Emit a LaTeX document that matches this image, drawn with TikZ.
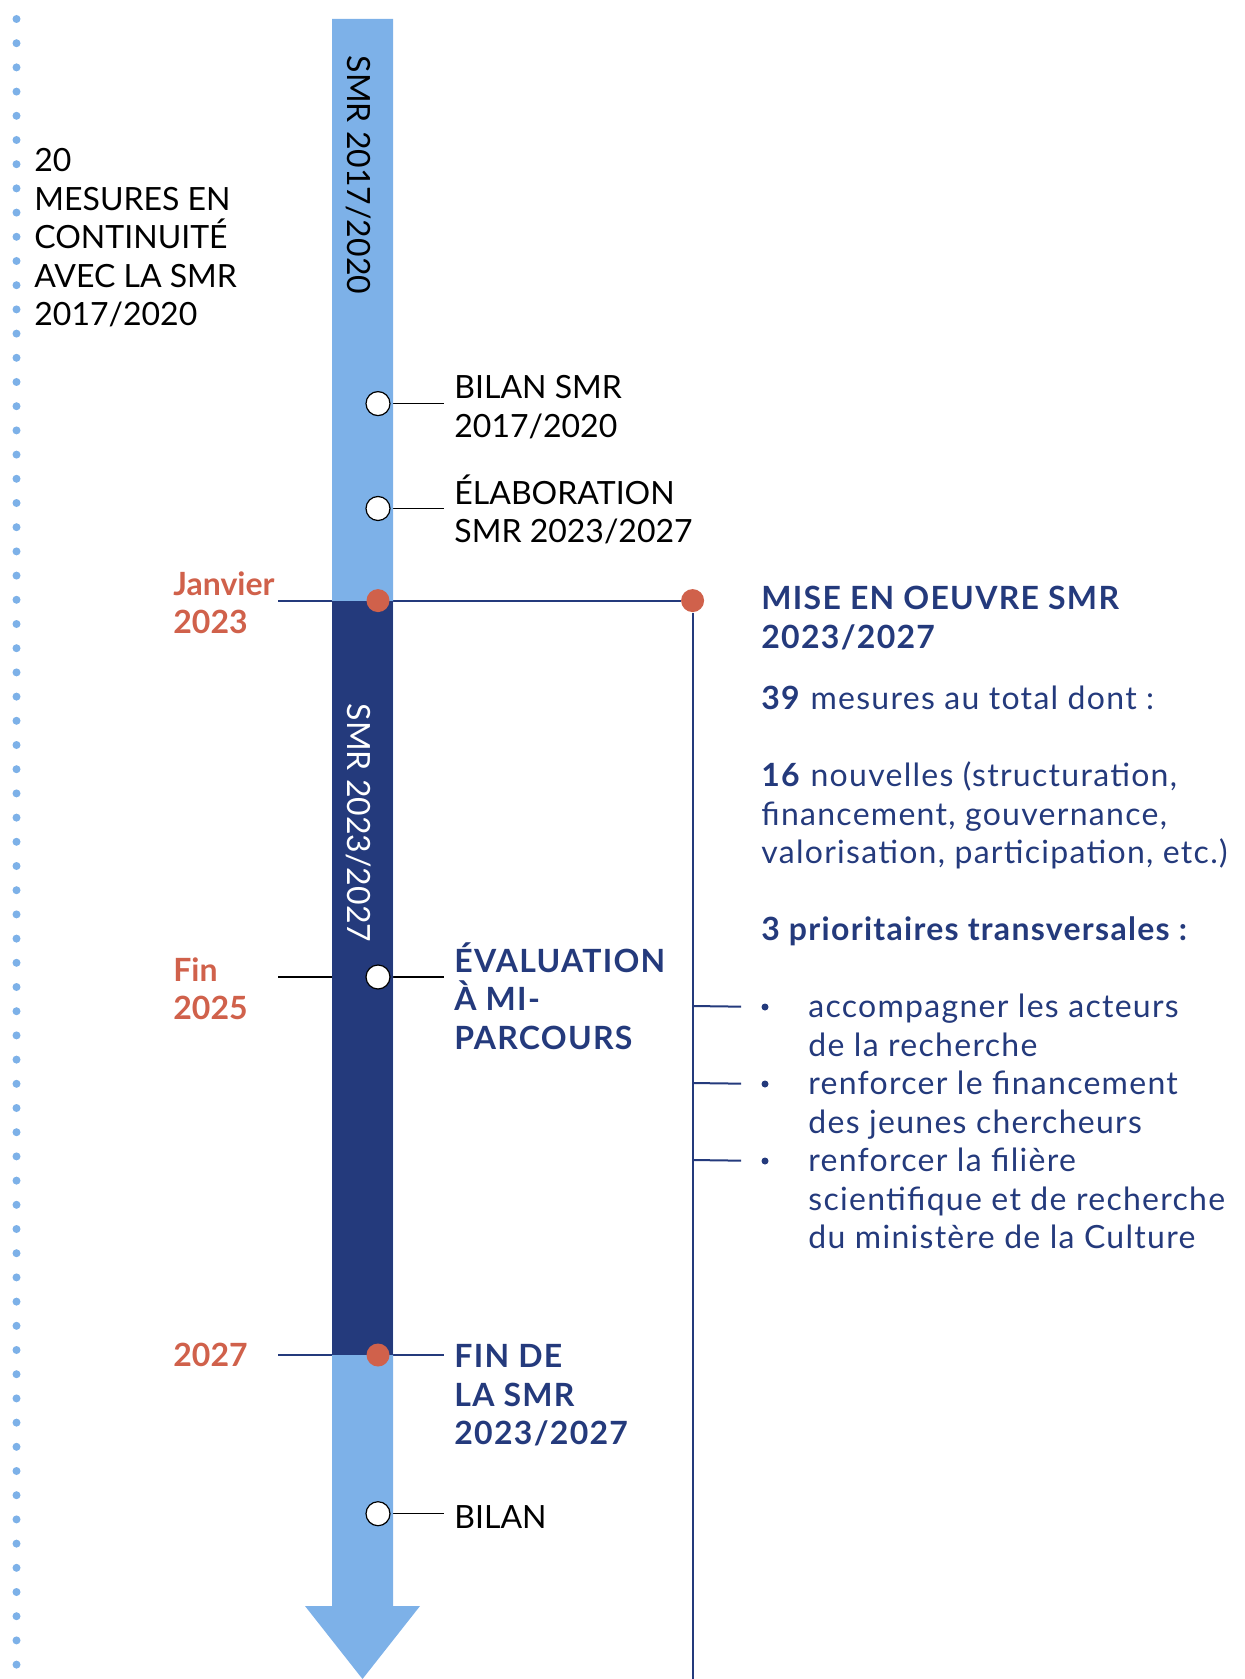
\documentclass[tikz,border=0pt]{standalone}
\usepackage{fontspec}
\setmainfont{Lato}
\newfontfamily\widefont{Lato}[LetterSpace=4]
\usetikzlibrary{calc}
\usetikzlibrary{positioning}
\definecolor[named]{SMRLightBlue}{HTML}{7DB1E8}
\definecolor[named]{SMRNavy}{HTML}{243A7C}
\definecolor[named]{SMRRed}{HTML}{D0614B}
\pgfdeclarelayer{lines}
\pgfdeclarelayer{bar}
\pgfsetlayers{lines,bar,main}
\newcommand{\labelsize}{\fontsize{16}{19.25}\selectfont}
\tikzset{
  opendot/.style={draw=black,fill=white,circle,inner sep=0pt,minimum size=12pt,line width=0.6pt},
  reddot/.style={fill=SMRRed,circle,inner sep=0pt,minimum size=11.5pt},
  bulletdot/.style={fill=SMRNavy,circle,inner sep=0pt,minimum size=3.5pt},
  plainlabel/.style={anchor=north west,align=left,inner xsep=5pt,inner ysep=0pt,font=\labelsize},
  boldlabel/.style={plainlabel,text=SMRNavy,font=\labelsize\widefont\bfseries},
  datelabel/.style={plainlabel,text=SMRRed,font=\labelsize\bfseries},
  textlabel/.style={plainlabel,text=SMRNavy,font=\labelsize\widefont},
  blackline/.style={black,line width=0.7pt},
  navyline/.style={SMRNavy,line width=1pt},
}

\begin{document}
\begin{tikzpicture}[x=0.5pt,y=-0.5pt]
    \useasboundingbox (0,0) rectangle (1245,1679);

    % Coordinates
    \path (362.5,1679) coordinate (Tip)
      (278,600.6) coordinate (JL)
      (278,977) coordinate (ML)
      (278,1355) coordinate (FL)
      (692.6,1679) coordinate (Rend)
      (692.6,1006) coordinate (P1)
      (692.6,1083) coordinate (P2)
      (692.6,1160) coordinate (P3)
      ;

    % Dotted rule on the left
    \draw[SMRLightBlue,line width=4pt,line cap=round,dash pattern=on 0pt off 12.1pt]
      (16.5,19) -- (16.5,1679);

    % Bar and arrow
    \begin{pgfonlayer}{bar}
      \fill[SMRLightBlue] (332,19) -- (393,19) -- (393,1606) -- (420,1606)
        -- (Tip) -- (305,1606) -- (332,1606) -- cycle;
      \fill[SMRNavy] (332,600.6) rectangle (393,1355);
    \end{pgfonlayer}
    \node[rotate=-90,font=\labelsize] (smrA) at (359,175) {SMR 2017/2020};
    \node[rotate=-90,font=\labelsize,text=white] (smrB) at (359,823) {SMR 2023/2027};

    % Dots
    \node[opendot] (b1) at (378,403.6) {};
    \node[opendot] (e1) at (378,508.5) {};
    \node[reddot] (j1) at (378,600.6) {};
    \node[opendot] (m1) at (378,977) {};
    \node[reddot] (f1) at (378,1355) {};
    \node[opendot] (b2) at (378,1513.7) {};
    \node[reddot] (r1) at (692.6,600.6) {};

    % Left column
    \node[plainlabel] (cont) at (24,148) {20\\MESURES EN\\CONTINUIT\'E\\AVEC LA SMR\\2017/2020};
    \node[datelabel] (jan) at (163,571) {Janvier\\2023};
    \node[datelabel] (mid) at (163,957) {Fin\\2025};
    \node[datelabel] (end) at (163,1343) {2027};

    % Labels, right of the bar
    \node[plainlabel] (b1t) at (444,375) {BILAN SMR\\2017/2020};
    \node[plainlabel] (e1t) at (444,474) {\'ELABORATION\\SMR 2023/2027};
    \node[boldlabel] (m1t) at (444,942) {\'EVALUATION\\\`A MI-\\PARCOURS};
    \node[boldlabel] (f1t) at (444,1344) {FIN DE\\LA SMR\\2023/2027};
    \node[plainlabel] (b2t) at (444,1505) {BILAN};

    % Right column
    \node[boldlabel] (head) at (751,586) {MISE EN OEUVRE SMR\\2023/2027};
    \node[textlabel] (body) at (751,686) {\textbf{39} mesures au total dont :\\[19.25pt]
      \textbf{16} nouvelles (structuration,\\financement, gouvernance,\\valorisation, participation, etc.)\\[19.25pt]
      \textbf{3 prioritaires transversales :}};
    \node[bulletdot] (u1) at (765,1007) {};
    \node[bulletdot] (u2) at (765,1084) {};
    \node[bulletdot] (u3) at (765,1161) {};
    \node[textlabel] (i1) at (798,994) {accompagner les acteurs\\de la recherche};
    \node[textlabel] (i2) at (798,1071) {renforcer le financement\\des jeunes chercheurs};
    \node[textlabel] (i3) at (798,1148) {renforcer la fili\`ere\\scientifique et de recherche\\du minist\`ere de la Culture};

    % Connectors
    \begin{pgfonlayer}{lines}
      \draw[blackline] (b1) -- (b1 -| b1t.west);
      \draw[blackline] (e1) -- (e1 -| e1t.west);
      \draw[blackline] (ML) -- (m1) -- (m1 -| m1t.west);
      \draw[blackline] (b2) -- (b2 -| b2t.west);
      \draw[navyline] (JL) -- (j1) -- (r1);
      \draw[navyline] (FL) -- (f1) -- (f1 -| f1t.west);
      \draw[navyline] (r1) -- (Rend);
      \draw[navyline,shorten >=10pt] (P1) -- (u1);
      \draw[navyline,shorten >=10pt] (P2) -- (u2);
      \draw[navyline,shorten >=10pt] (P3) -- (u3);
    \end{pgfonlayer}

\end{tikzpicture}
\end{document}
